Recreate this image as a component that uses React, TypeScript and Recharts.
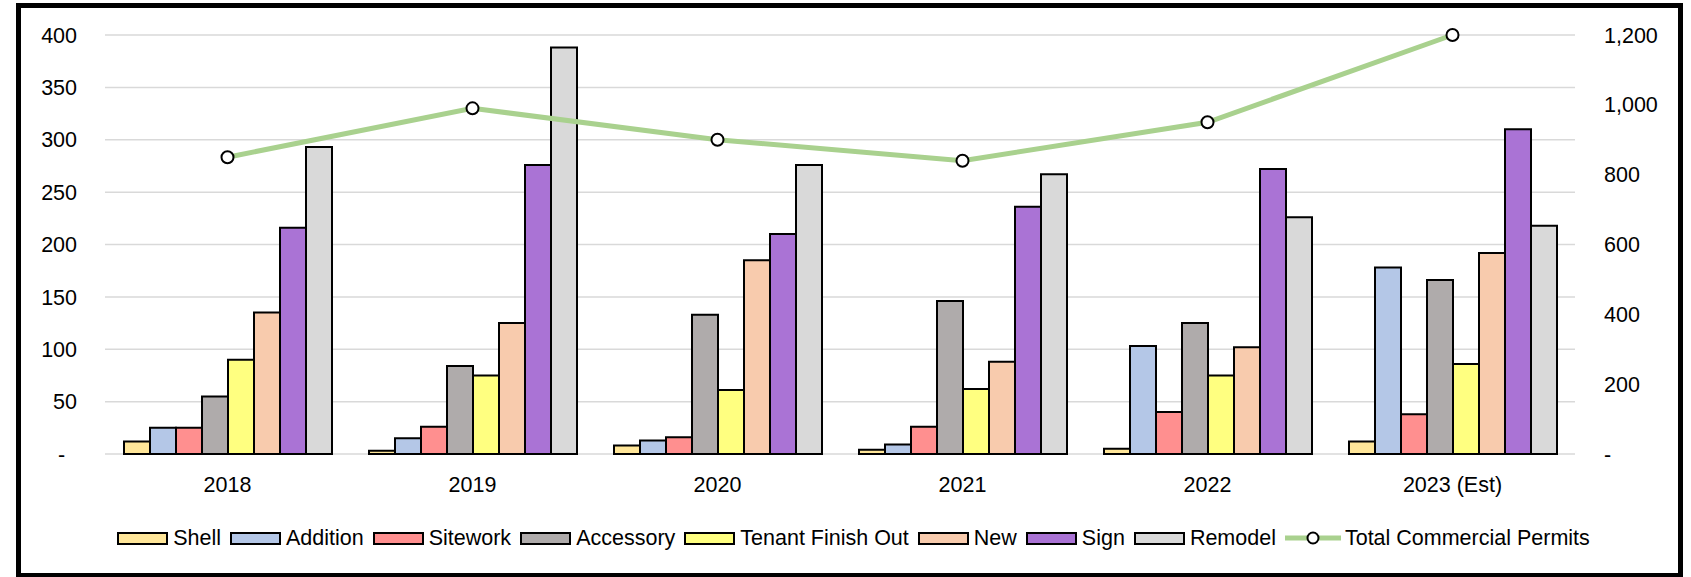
import React from 'react';
import {
  ComposedChart,
  Bar,
  Line,
  XAxis,
  YAxis,
  CartesianGrid,
} from 'recharts';

const categories = ['2018', '2019', '2020', '2021', '2022', '2023 (Est)'];
const shell = [12, 3, 8, 4, 5, 12];
const addition = [25, 15, 13, 9, 103, 178];
const sitework = [25, 26, 16, 26, 40, 38];
const accessory = [55, 84, 133, 146, 125, 166];
const tenantFinishOut = [90, 75, 61, 62, 75, 86];
const newPermits = [135, 125, 185, 88, 102, 192];
const sign = [216, 276, 210, 236, 272, 310];
const remodel = [293, 388, 276, 267, 226, 218];
const totalPermits = [850, 990, 900, 840, 950, 1200];

const leftTicks = [0, 50, 100, 150, 200, 250, 300, 350, 400];
const rightTicks = [0, 200, 400, 600, 800, 1000, 1200];

const barSeries = [
  { key: 'shell', name: 'Shell', color: '#FFE699', values: shell },
  { key: 'addition', name: 'Addition', color: '#B4C7E7', values: addition },
  { key: 'sitework', name: 'Sitework', color: '#FF8F8F', values: sitework },
  { key: 'accessory', name: 'Accessory', color: '#AFABAB', values: accessory },
  { key: 'tenant', name: 'Tenant Finish Out', color: '#FFFF80', values: tenantFinishOut },
  { key: 'newp', name: 'New', color: '#F8CBAD', values: newPermits },
  { key: 'sign', name: 'Sign', color: '#AA73D5', values: sign },
  { key: 'remodel', name: 'Remodel', color: '#D9D9D9', values: remodel },
];
const lineName = 'Total Commercial Permits';
const lineColor = '#A9D18E';

const data = categories.map((c, i) => {
  const row: any = { category: c, total: totalPermits[i] };
  barSeries.forEach((s) => {
    row[s.key] = s.values[i];
  });
  return row;
});

const FONT = "'Liberation Sans', Arial, sans-serif";
const FS = 21.5;

const fmtLeft = (v: number) => (v === 0 ? '-\u00A0\u00A0' : String(v));
const fmtRight = (v: number) => (v === 0 ? '-' : v.toLocaleString('en-US'));

function LegendRow() {
  return (
    <div
      style={{
        position: 'absolute',
        left: 16,
        width: 1675,
        top: 526,
        height: 24,
        display: 'flex',
        justifyContent: 'center',
        alignItems: 'center',
        fontFamily: FONT,
        fontSize: FS,
        color: '#000',
        whiteSpace: 'nowrap',
      }}
    >
      {barSeries.map((s) => (
        <div key={s.key} style={{ display: 'flex', alignItems: 'center', marginRight: 9 }}>
          <div
            style={{
              width: 51,
              height: 13,
              boxSizing: 'border-box',
              background: s.color,
              border: '2px solid #000',
              marginRight: 5,
            }}
          />
          <span>{s.name}</span>
        </div>
      ))}
      <div style={{ display: 'flex', alignItems: 'center' }}>
        <svg width={56} height={16} style={{ marginRight: 4 }}>
          <line x1={0} y1={8} x2={56} y2={8} stroke={lineColor} strokeWidth={5} />
          <circle cx={28} cy={8} r={5.5} fill="#fff" stroke="#000" strokeWidth={2} />
        </svg>
        <span>{lineName}</span>
      </div>
    </div>
  );
}

export default function App() {
  return (
    <div
      style={{
        position: 'absolute',
        left: 0,
        top: 0,
        width: 1691,
        height: 577,
        background: '#fff',
        overflow: 'hidden',
      }}
    >
      <div
        style={{
          position: 'absolute',
          left: 16,
          top: 3,
          width: 1667,
          height: 575,
          boxSizing: 'border-box',
          border: '5px solid #000',
        }}
      />
      <div style={{ position: 'absolute', left: 0, top: 0 }}>
        <ComposedChart
          width={1691}
          height={577}
          data={data}
          margin={{ top: 35, right: 0, left: 0, bottom: 93 }}
          barCategoryGap={19}
          barGap={0}
        >
          <CartesianGrid
            yAxisId="left"
            vertical={false}
            stroke="#D9D9D9"
            strokeWidth={1.5}
          />
          <XAxis
            dataKey="category"
            height={30}
            axisLine={false}
            tickLine={false}
            tickSize={0}
            tickMargin={23}
            interval={0}
            tick={{ fill: '#000', fontSize: FS, fontFamily: FONT }}
          />
          <YAxis
            yAxisId="left"
            orientation="left"
            width={105}
            domain={[0, 400]}
            ticks={leftTicks}
            axisLine={false}
            tickLine={false}
            tickSize={0}
            tickMargin={28}
            tickFormatter={fmtLeft}
            tick={{ fill: '#000', fontSize: FS, fontFamily: FONT }}
          />
          <YAxis
            yAxisId="right"
            orientation="right"
            width={116}
            domain={[0, 1200]}
            ticks={rightTicks}
            axisLine={false}
            tickLine={false}
            tickSize={0}
            tickMargin={29}
            tickFormatter={fmtRight}
            tick={{ fill: '#000', fontSize: FS, fontFamily: FONT, textAnchor: 'start' }}
          />
          {barSeries.map((s) => (
            <Bar
              key={s.key}
              yAxisId="left"
              dataKey={s.key}
              name={s.name}
              fill={s.color}
              stroke="#000"
              strokeWidth={2}
              isAnimationActive={false}
            />
          ))}
          <Line
            yAxisId="right"
            dataKey="total"
            name={lineName}
            type="linear"
            stroke={lineColor}
            strokeWidth={5}
            dot={{ r: 6, fill: '#fff', stroke: '#000', strokeWidth: 2 }}
            activeDot={false}
            isAnimationActive={false}
          />
        </ComposedChart>
      </div>
      <LegendRow />
    </div>
  );
}
